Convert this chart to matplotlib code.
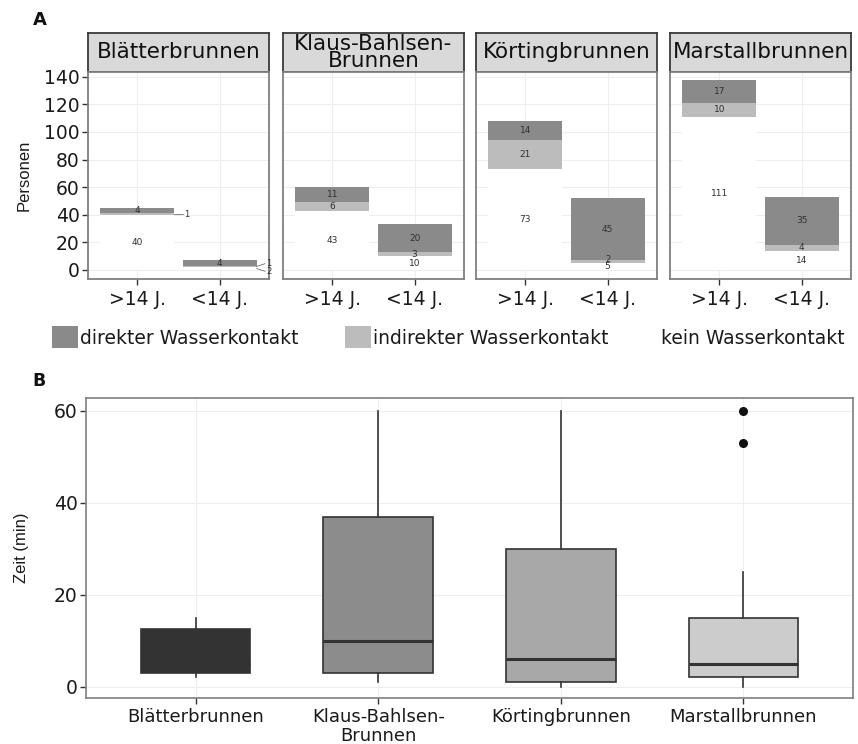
import matplotlib
matplotlib.use("Agg")
import matplotlib.pyplot as plt
from matplotlib.patches import Rectangle
import numpy as np

# ---------------- data ----------------
fountains = ["Blätterbrunnen", "Klaus-Bahlsen-\nBrunnen", "Körtingbrunnen", "Marstallbrunnen"]
age_groups = [">14 J.", "<14 J."]
contact_types = ["direkter Wasserkontakt", "indirekter Wasserkontakt", "kein Wasserkontakt"]

# counts per fountain: [>14 J., <14 J.]
kein_contact = [[40, 2], [43, 10], [73, 5], [111, 14]]
indirekt_contact = [[1, 1], [6, 3], [21, 2], [10, 4]]
direkt_contact = [[4, 4], [11, 20], [14, 45], [17, 35]]

yticks_a = [0, 20, 40, 60, 80, 100, 120, 140]

# panel B: box statistics (Zeit in min)
box_labels = ["Blätterbrunnen", "Klaus-Bahlsen-\nBrunnen", "Körtingbrunnen", "Marstallbrunnen"]
box_whislo = [2, 1, 0, 0]
box_q1 = [3, 3, 1, 2]
box_med = [5, 10, 6, 5]
box_q3 = [12.5, 37, 30, 15]
box_whishi = [15, 60, 60, 25]
box_fliers = [[], [], [], [53, 60]]
yticks_b = [0, 20, 40, 60]

# ---------------- style ----------------
col_direkt = "#8a8a8a"
col_indirekt = "#bcbcbc"
col_kein = "#ffffff"
box_fill = ["#333333", "#8c8c8c", "#a8a8a8", "#cccccc"]
grid_col = "#eeeeee"
border_col = "#7f7f7f"
txt_col = "#303030"

W, H = 858, 744
fig = plt.figure(figsize=(W / 100, H / 100), dpi=100)


def px_axes(x0, y0, x1, y1):
    return fig.add_axes([x0 / W, 1 - y1 / H, (x1 - x0) / W, (y1 - y0) / H])


# ---------------- panel A ----------------
fig.text(33 / W, 1 - 20 / H, "A", fontsize=13, fontweight="bold", va="center", ha="left", color="#111111")

lefts = [88, 283, 476, 670]
fw = 181
strip_top, strip_bot, plot_bot = 33, 72, 279
xpos = np.array([1, 2])

for i, name in enumerate(fountains):
    x0 = lefts[i]
    # strip
    sax = px_axes(x0, strip_top, x0 + fw, strip_bot)
    sax.set_facecolor("#d9d9d9")
    sax.set_xticks([])
    sax.set_yticks([])
    for sp in sax.spines.values():
        sp.set_color("#3a3a3a")
        sp.set_linewidth(1.3)
    sax.text(0.5, 0.5, name, ha="center", va="center", fontsize=15.5, color="#111111",
             linespacing=0.8, transform=sax.transAxes)

    ax = px_axes(x0, strip_bot, x0 + fw, plot_bot)
    ax.set_xlim(0.4, 2.6)
    ax.set_ylim(-6.6, 143.5)
    ax.set_axisbelow(True)
    for y in yticks_a:
        ax.axhline(y, color=grid_col, lw=0.8, zorder=0)
    for x in xpos:
        ax.axvline(x, color=grid_col, lw=0.8, zorder=0)

    k = np.array(kein_contact[i])
    ind = np.array(indirekt_contact[i])
    d = np.array(direkt_contact[i])
    ax.bar(xpos, k, width=0.9, color=col_kein, zorder=1)
    ax.bar(xpos, ind, bottom=k, width=0.9, color=col_indirekt, zorder=2)
    ax.bar(xpos, d, bottom=k + ind, width=0.9, color=col_direkt, zorder=2)

    # value labels
    for j in range(2):
        segs = [(k[j], 0), (ind[j], k[j]), (d[j], k[j] + ind[j])]
        for n_s, (v, b) in enumerate(segs):
            yc = b + v / 2
            if v <= 2 and i == 0:
                # tiny segments labelled beside the bar
                ytxt = yc - 2 + 4 * n_s if j == 1 else yc
                ax.plot([xpos[j] + 0.45, xpos[j] + 0.55], [yc, ytxt], color="#555555", lw=0.5, zorder=3)
                ax.text(xpos[j] + 0.57, ytxt, str(v), fontsize=6, ha="left", va="center",
                        color=txt_col, zorder=4, clip_on=False)
            elif v <= 2:
                ax.text(xpos[j], yc + 1.8, str(v), fontsize=6, ha="center", va="center", color=txt_col, zorder=4)
            else:
                ax.text(xpos[j], yc, str(v), fontsize=6.5, ha="center", va="center", color=txt_col, zorder=4)

    ax.set_xticks(xpos)
    ax.set_xticklabels(age_groups, fontsize=13.5, color="#1a1a1a")
    ax.tick_params(axis="x", length=4, width=1, color="#333333", pad=4)
    if i == 0:
        ax.set_yticks(yticks_a)
        ax.set_yticklabels([str(v) for v in yticks_a], fontsize=13.5, color="#1a1a1a")
        ax.tick_params(axis="y", length=4, width=1, color="#333333", pad=2)
        ax.set_ylabel("Personen", fontsize=12, family="Liberation Sans", color="#1a1a1a", labelpad=9)
    else:
        ax.set_yticks([])
    for sp in ax.spines.values():
        sp.set_color(border_col)
        sp.set_linewidth(1.3)

# legend
leg_cols = [col_direkt, col_indirekt, col_kein]
leg_sq_x = [52, 345, 635]
leg_txt_x = [80, 373, 661]
for c, lab, sx, tx in zip(leg_cols, contact_types, leg_sq_x, leg_txt_x):
    fig.patches.append(Rectangle((sx / W, 1 - 348 / H), 26 / W, 22 / H, transform=fig.transFigure,
                                 facecolor=c, edgecolor="none"))
    fig.text(tx / W, 1 - 339 / H, lab, fontsize=13.5, ha="left", va="center", color="#1a1a1a")

# ---------------- panel B ----------------
fig.text(32 / W, 1 - 381 / H, "B", fontsize=12.5, fontweight="bold", va="center", ha="left", color="#111111")

axb = px_axes(86, 398, 853, 698)
axb.set_xlim(0.4, 4.6)
axb.set_ylim(-2.5, 62.8)
pos = np.arange(1, 5)
for y in yticks_b:
    axb.axhline(y, color=grid_col, lw=0.8, zorder=0)
for x in pos:
    axb.axvline(x, color=grid_col, lw=0.8, zorder=0)

stats = []
for i in range(4):
    stats.append(dict(whislo=box_whislo[i], q1=box_q1[i], med=box_med[i], q3=box_q3[i],
                      whishi=box_whishi[i], fliers=box_fliers[i]))
bp = axb.bxp(stats, positions=pos, widths=0.6, patch_artist=True, showcaps=False,
             boxprops=dict(edgecolor="#333333", linewidth=1.2),
             medianprops=dict(color="#333333", linewidth=2.2),
             whiskerprops=dict(color="#333333", linewidth=1.2),
             flierprops=dict(marker="o", markerfacecolor="#111111", markeredgecolor="#111111",
                             markersize=5.5))
for patch, c in zip(bp["boxes"], box_fill):
    patch.set_facecolor(c)
    patch.set_zorder(2)

axb.set_xticks(pos)
axb.set_xticklabels(box_labels, fontsize=13, color="#1a1a1a", linespacing=1.05)
axb.set_yticks(yticks_b)
axb.set_yticklabels([str(v) for v in yticks_b], fontsize=13.5, color="#1a1a1a")
axb.tick_params(axis="both", length=4, width=1, color="#333333")
axb.tick_params(axis="y", pad=2)
axb.set_ylabel("Zeit (min)", fontsize=12, family="Liberation Sans", color="#1a1a1a", labelpad=18)
for sp in axb.spines.values():
    sp.set_color(border_col)
    sp.set_linewidth(1.2)

fig.savefig("out.png", dpi=100, facecolor="white")
